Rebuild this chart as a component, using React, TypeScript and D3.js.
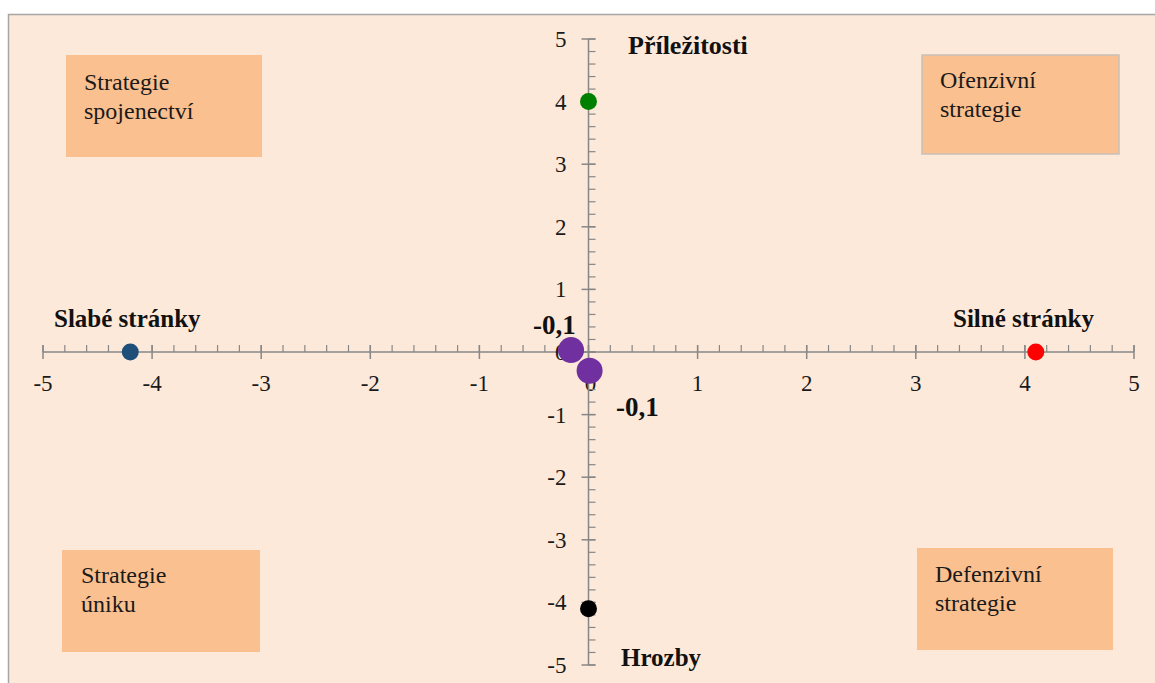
import React from "react";
import * as d3 from "d3";

const pointNames = ["Slabé stránky", "Silné stránky", "Příležitosti", "Hrozby", "Bod A", "Bod B"];
const pointX = [-4.2, 4.1, 0, 0, -0.16, 0.01];
const pointY = [0, 0, 4, -4.1, 0.03, -0.3];
const pointColors = ["#1F4E79", "#FF0000", "#008000", "#000000", "#7030A0", "#7030A0"];
const pointRadius = [8.5, 8.5, 8.5, 8.5, 13, 13];

const xTicks = [-5, -4, -3, -2, -1, 0, 1, 2, 3, 4, 5];
const yTicks = [-5, -4, -3, -2, -1, 0, 1, 2, 3, 4, 5];

const quadrantTitles = [
  ["Strategie", "spojenectví"],
  ["Ofenzivní", "strategie"],
  ["Strategie", "úniku"],
  ["Defenzivní", "strategie"],
];
const axisTitles = ["Příležitosti", "Slabé stránky", "Silné stránky", "Hrozby"];
const valueLabels = ["-0,1", "-0,1"];

export default function App() {
  const W = 1155, H = 683;
  const x = d3.scaleLinear().domain([-5, 5]).range([43, 1134]);
  const y = d3.scaleLinear().domain([-5, 5]).range([665, 39]);
  const x0 = x(0), y0 = y(0);
  const minorX = d3.range(-5, 5.0001, 0.2).map((v) => +v.toFixed(1));
  const font = "'Liberation Serif', 'Times New Roman', serif";
  const axisCol = "#878787";

  const boxes = [
    { x: 66, y: 55, w: 196, h: 102, tx: 84, ty: 90, stroke: "none" },
    { x: 922, y: 55, w: 197, h: 99, tx: 940, ty: 88, stroke: "#C8C0B8" },
    { x: 62, y: 550, w: 198, h: 102, tx: 81, ty: 583, stroke: "none" },
    { x: 917, y: 548, w: 196, h: 102, tx: 935, ty: 582, stroke: "none" },
  ];
  const titlePos = [
    { x: 628, y: 54 },
    { x: 54, y: 327 },
    { x: 953, y: 327 },
    { x: 621, y: 666 },
  ];
  const valuePos = [
    { x: 533, y: 334 },
    { x: 616, y: 416 },
  ];
  const titleSizes = [26, 25, 25, 25];

  return (
    <div style={{ position: "fixed", left: 0, top: 0 }}>
      <svg width={W} height={H} style={{ display: "block", background: "#fff" }}>
        <rect x={8.5} y={14.5} width={W} height={H} fill="#FDE9D9" stroke="#A6A6A6" strokeWidth={1.5} />
        {boxes.map((b, i) => (
          <g key={i}>
            <rect x={b.x} y={b.y} width={b.w} height={b.h} fill="#FAC090" stroke={b.stroke} strokeWidth={1.5} />
            {quadrantTitles[i].map((t, j) => (
              <text key={j} x={b.tx} y={b.ty + j * 29} fontFamily={font} fontSize={24} fill="#1a1a1a">
                {t}
              </text>
            ))}
          </g>
        ))}
        {/* x axis */}
        <line x1={x(-5)} x2={x(5)} y1={y0} y2={y0} stroke={axisCol} strokeWidth={1.5} />
        {minorX.map((v, i) => (
          <line key={"mx" + i} x1={x(v)} x2={x(v)} y1={y0 - 7} y2={y0} stroke={axisCol} strokeWidth={1.2} />
        ))}
        {xTicks.map((v) => (
          <g key={"xt" + v}>
            <line x1={x(v)} x2={x(v)} y1={y0 - 7} y2={y0 + 7} stroke={axisCol} strokeWidth={1.5} />
            <text x={x(v) + (v === 0 ? 2 : 0)} y={y0 + 39} textAnchor="middle" fontFamily={font} fontSize={23} fill="#1a1a1a">
              {v}
            </text>
          </g>
        ))}
        {/* y axis */}
        <line x1={x0} x2={x0} y1={y(-5)} y2={y(5)} stroke={axisCol} strokeWidth={1.5} />
        {minorX.map((v, i) => (
          <line key={"my" + i} x1={x0} x2={x0 + 7} y1={y(v)} y2={y(v)} stroke={axisCol} strokeWidth={1.2} />
        ))}
        {yTicks.map((v) => (
          <g key={"yt" + v}>
            <line x1={x0 - 7} x2={x0 + 7} y1={y(v)} y2={y(v)} stroke={axisCol} strokeWidth={1.5} />
            <text x={x0 - 22} y={y(v) + 8} textAnchor="end" fontFamily={font} fontSize={23} fill="#1a1a1a">
              {v}
            </text>
          </g>
        ))}
        {/* axis titles */}
        {axisTitles.map((t, i) => (
          <text key={t} x={titlePos[i].x} y={titlePos[i].y} fontFamily={font} fontSize={titleSizes[i]} fontWeight="bold" fill="#111">
            {t}
          </text>
        ))}
        {valueLabels.map((t, i) => (
          <text key={"vl" + i} x={valuePos[i].x} y={valuePos[i].y} fontFamily={font} fontSize={27} fontWeight="bold" fill="#111">
            {t}
          </text>
        ))}
        {/* points */}
        {pointNames.map((n, i) => (
          <circle key={n} cx={x(pointX[i])} cy={y(pointY[i])} r={pointRadius[i]} fill={pointColors[i]}>
            <title>{n}</title>
          </circle>
        ))}
      </svg>
    </div>
  );
}
